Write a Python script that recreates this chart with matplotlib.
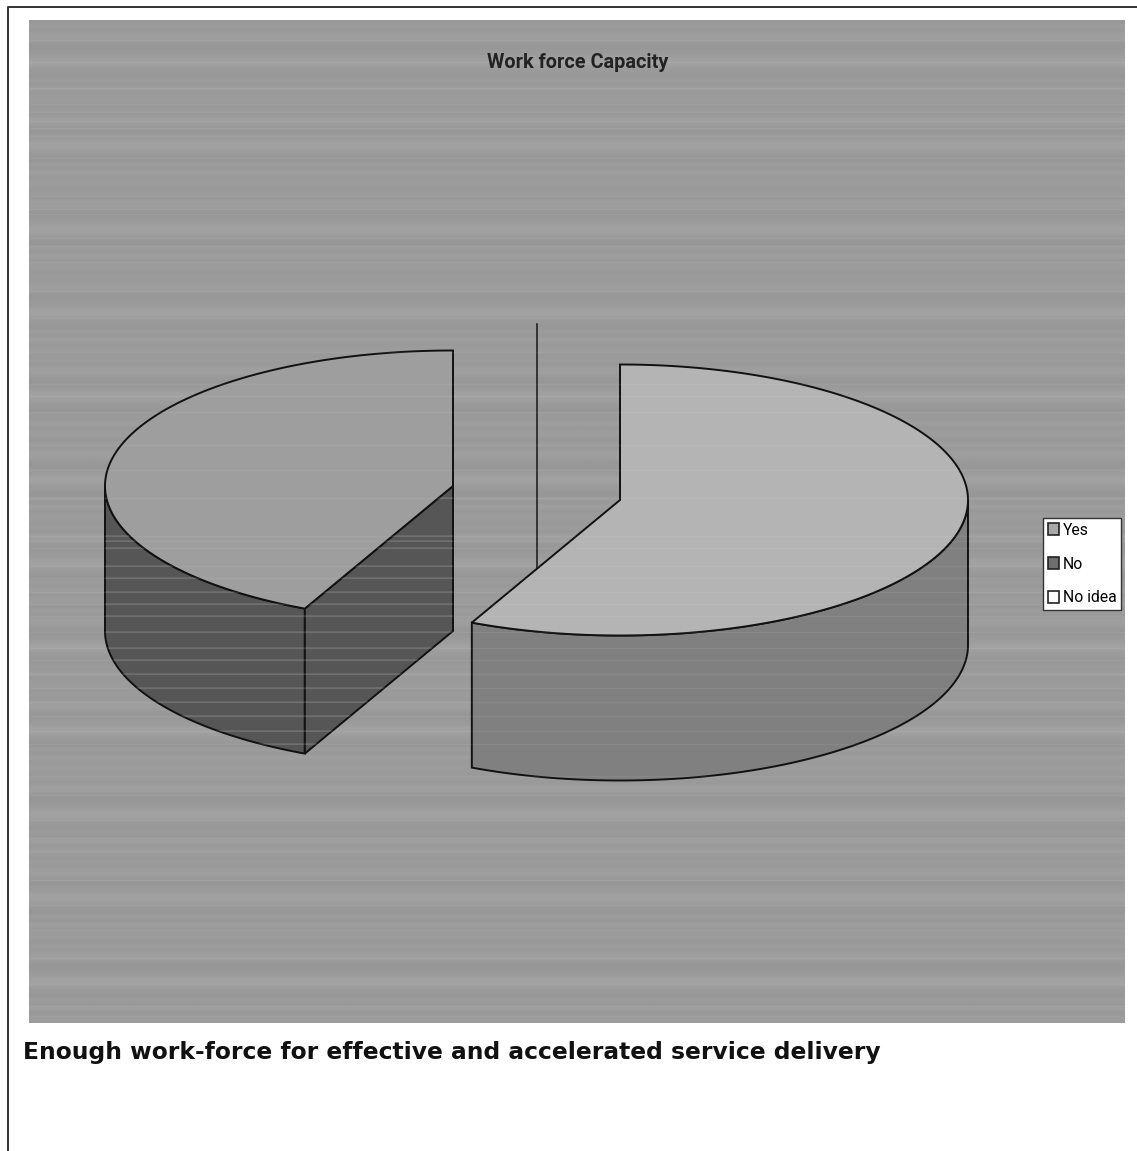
#!/usr/bin/env python3
# exploded 3d pie, scanned look: grey streaky plot area, caption under it

import numpy as np
import matplotlib
matplotlib.use('Agg')
import matplotlib.pyplot as plt
from matplotlib.patches import Patch, Polygon

# data
CATEGORIES = ['Yes', 'No', 'No idea']
VALUES = [57, 43, 0]
TITLE = 'Work force Capacity'
CAPTION = 'Enough work-force for effective and accelerated service delivery'

# pie geometry, pixels of the figure
CENTERS = {'Yes': (620, 500), 'No': (453, 486), 'No idea': (537, 459)}
RX, RY, DEPTH = 348, 135.5, 145

# colours
TOPS = {'Yes': '#b4b4b4', 'No': '#9e9e9e'}
SIDES = {'Yes': '#808080', 'No': '#565656'}
SWATCHES = {'Yes': '#a8a8a8', 'No': '#6e6e6e', 'No idea': '#ffffff'}

# rough rows of the scan stripes
STREAK_ROWS = [40, 62, 88, 104, 112, 121, 128, 136, 158, 196, 209, 214, 238, 246, 262, 291, 318, 352,
               384, 396, 412, 445, 470, 498, 536, 541, 548, 566, 578, 592, 604, 616, 632, 648, 660,
               674, 688, 702, 716, 731, 744, 776, 795, 820, 838, 851, 880, 905, 930, 958, 984, 1006]
STRIPE_LEVELS = [0.60, 0.61, 0.60, 0.62, 0.62, 0.60, 0.59, 0.60, 0.61, 0.63, 0.63, 0.61, 0.60, 0.59,
                 0.61, 0.60, 0.62, 0.60, 0.61, 0.61]


def ell(center, t):
    t = np.radians(t)
    return np.column_stack([center[0] + RX * np.cos(t), center[1] - RY * np.sin(t)])


def draw_slice(ax, name, start, end):
    # start > end, going clockwise from the top
    c = CENTERS[name]
    ts = np.linspace(start, end, 300)
    # outer wall, only the part on the front of the pie
    front = ts[np.sin(np.radians(ts)) <= 0]
    arc = ell(c, front)
    low = arc + [0, DEPTH]
    wall = Polygon(np.vstack([arc, low[::-1]]), closed=True, fc=SIDES[name], ec='#111111', lw=1.4, zorder=3)
    ax.add_patch(wall)
    shapes = [wall]
    # cut face at the start edge, seen only for the left slice
    if name == 'No':
        p = ell(c, [start])[0]
        face = [p, c, (c[0], c[1] + DEPTH), (p[0], p[1] + DEPTH)]
        shapes.append(Polygon(face, closed=True, fc=SIDES[name], ec='#111111', lw=1.4, zorder=3))
        ax.add_patch(shapes[-1])
    # top
    top = np.vstack([[c], ell(c, ts)])
    ax.add_patch(Polygon(top, closed=True, fc=TOPS[name], ec='#111111', lw=1.4, zorder=4))
    return shapes


fig = plt.figure(figsize=(11.37, 11.51), dpi=100)
ax = fig.add_axes([0, 0, 1, 1])
ax.axis('off')

# plot area with its stripes
stripes = np.array(STRIPE_LEVELS * 12)[:, None]
ax.imshow(stripes, cmap='gray', vmin=0, vmax=1, extent=(29, 1125, 1023, 20), aspect='auto',
          interpolation='bilinear', zorder=1)
ax.set_xlim(0, 1137)
ax.set_ylim(1151, 0)

# page border of the scan
ax.plot([1137, 8, 8], [7, 7, 1151], color='#333333', lw=1.4)

# the slices, clockwise from the top
angle = 90.0
total = sum(VALUES)
dark = []
for name, value in zip(CATEGORIES, VALUES):
    sweep = value / total * 360
    if value > 0:
        shapes = draw_slice(ax, name, angle, angle - sweep)
        if name == 'No':
            dark = shapes
    angle -= sweep

# the empty slice is only a line, behind the others
c = CENTERS['No idea']
ax.plot([c[0], c[0]], [c[1] - RY, c[1] + DEPTH], color='#222222', lw=1.2, zorder=2)

# stripes show up over the pie, mostly on the dark faces
ax.hlines(STREAK_ROWS, 29, 1125, color='white', lw=1.0, alpha=0.06, zorder=5)
for shape in dark:
    streaks = ax.hlines(STREAK_ROWS, 29, 1125, color='white', lw=1.2, alpha=0.12, zorder=5)
    streaks.set_clip_path(shape)

NARROW = dict(family='Roboto', stretch='condensed')
ax.text(578, 62, TITLE, ha='center', va='center', fontsize=14.3, fontweight='bold',
        color='#222222', zorder=6, **NARROW)
ax.text(23, 1053, CAPTION, ha='left', va='center', fontsize=16.85, fontweight='bold',
        family='DejaVu Sans', color='#111111', zorder=6)

handles = [Patch(fc=SWATCHES[n], ec='#222222', lw=1.2, label=n) for n in CATEGORIES]
leg = ax.legend(handles=handles, loc='upper left', bbox_to_anchor=(1043, 518), bbox_transform=ax.transData,
                prop={'family': 'Roboto', 'stretch': 'condensed', 'size': 11.3},
                frameon=True, fancybox=False, framealpha=1, edgecolor='#333333', facecolor='white',
                handlelength=0.7, handleheight=0.8, handletextpad=0.25, labelspacing=1.2,
                borderpad=0.3, borderaxespad=0)
leg.set_zorder(7)

fig.savefig('out.png', dpi=100)
